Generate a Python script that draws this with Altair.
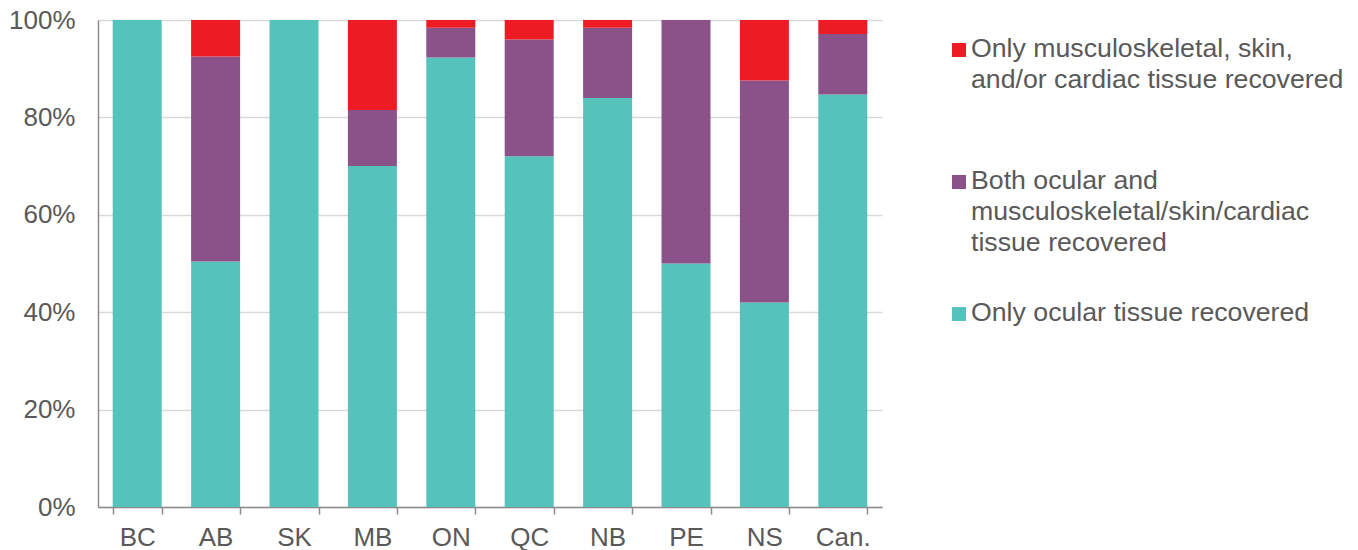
import altair as alt
import pandas as pd

# Share of donors by type of tissue recovered, per province and for Canada (%)
regions = ["BC", "AB", "SK", "MB", "ON", "QC", "NB", "PE", "NS", "Can."]
ocular_only = [100, 50.4, 100, 70.0, 92.3, 72.0, 84.0, 50.0, 42.0, 84.7]
ocular_and_other = [0, 42.1, 0, 11.5, 6.1, 24.0, 14.4, 50.0, 45.6, 12.4]
other_only = [0, 7.5, 0, 18.5, 1.6, 4.0, 1.6, 0, 12.4, 2.9]

series_names = [
    "Only musculoskeletal, skin, and/or cardiac tissue recovered",
    "Both ocular and musculoskeletal/skin/cardiac tissue recovered",
    "Only ocular tissue recovered",
]
legend_labels = [
    "Only musculoskeletal, skin,\nand/or cardiac tissue recovered",
    "Both ocular and\nmusculoskeletal/skin/cardiac\ntissue recovered",
    "Only ocular tissue recovered",
]
series_colors = ["#ED1C24", "#8A5289", "#55C3BC"]
y_ticks = [0, 20, 40, 60, 80, 100]

FONT = "Liberation Sans"
TEXT = "#595959"
AXIS = "#8C8C8C"

# long table; stack_rank 0 sits on the baseline
rows = []
for rank, (name, values) in enumerate(
    [(series_names[2], ocular_only), (series_names[1], ocular_and_other), (series_names[0], other_only)]
):
    for region, value in zip(regions, values):
        rows.append({"region": region, "series": name, "share": value, "stack_rank": rank})
bars_df = pd.DataFrame(rows)

color_scale = alt.Scale(domain=series_names, range=series_colors)

bars = (
    alt.Chart(bars_df)
    .mark_bar()
    .encode(
        x=alt.X(
            "region:N",
            sort=regions,
            scale=alt.Scale(paddingInner=0.375, paddingOuter=0.1875),
            axis=alt.Axis(
                title=None,
                labelAngle=0,
                tickBand="extent",
                tickSize=7,
                tickWidth=1.5,
                tickColor=AXIS,
                domainColor=AXIS,
                domainWidth=1.5,
                labelFont=FONT,
                labelFontSize=26,
                labelColor=TEXT,
                labelPadding=10,
                grid=False,
            ),
        ),
        y=alt.Y(
            "share:Q",
            stack="zero",
            scale=alt.Scale(domain=[0, 100], nice=False),
            axis=alt.Axis(
                title=None,
                values=y_ticks,
                labelExpr="datum.value + '%'",
                ticks=False,
                labelFont=FONT,
                labelFontSize=26,
                labelColor=TEXT,
                labelPadding=23,
                domainColor=AXIS,
                domainWidth=1.5,
                gridColor="#D9D9D9",
                gridWidth=1.5,
            ),
        ),
        color=alt.Color("series:N", scale=color_scale, legend=None),
        order=alt.Order("stack_rank:Q", sort="ascending"),
    )
    .properties(width=784, height=487)
)

# legend drawn as its own panel: one swatch and one wrapped label per series
legend_df = pd.DataFrame({"series": series_names, "label": legend_labels})
legend_y = alt.Y("series:N", sort=series_names, axis=None, scale=alt.Scale(padding=0.227))

swatches = (
    alt.Chart(legend_df)
    .mark_square(size=196, opacity=1)
    .encode(
        x=alt.value(7),
        y=legend_y,
        color=alt.Color("series:N", scale=color_scale, legend=None),
    )
)
labels = (
    alt.Chart(legend_df)
    .mark_text(
        align="left",
        baseline="alphabetic",
        lineBreak="\n",
        lineHeight=31,
        dy=7,
        font=FONT,
        fontSize=26.7,
        color=TEXT,
    )
    .encode(x=alt.value(19), y=legend_y, text="label:N")
)
legend_panel = (swatches + labels).properties(width=395, height=324)

chart = (
    alt.hconcat(bars, legend_panel, spacing=70)
    .properties(padding={"left": 8, "top": 7, "right": 5, "bottom": 0})
    .configure_view(stroke=None)
)

chart.save("out.html", embed_options={"renderer": "svg", "actions": False})
